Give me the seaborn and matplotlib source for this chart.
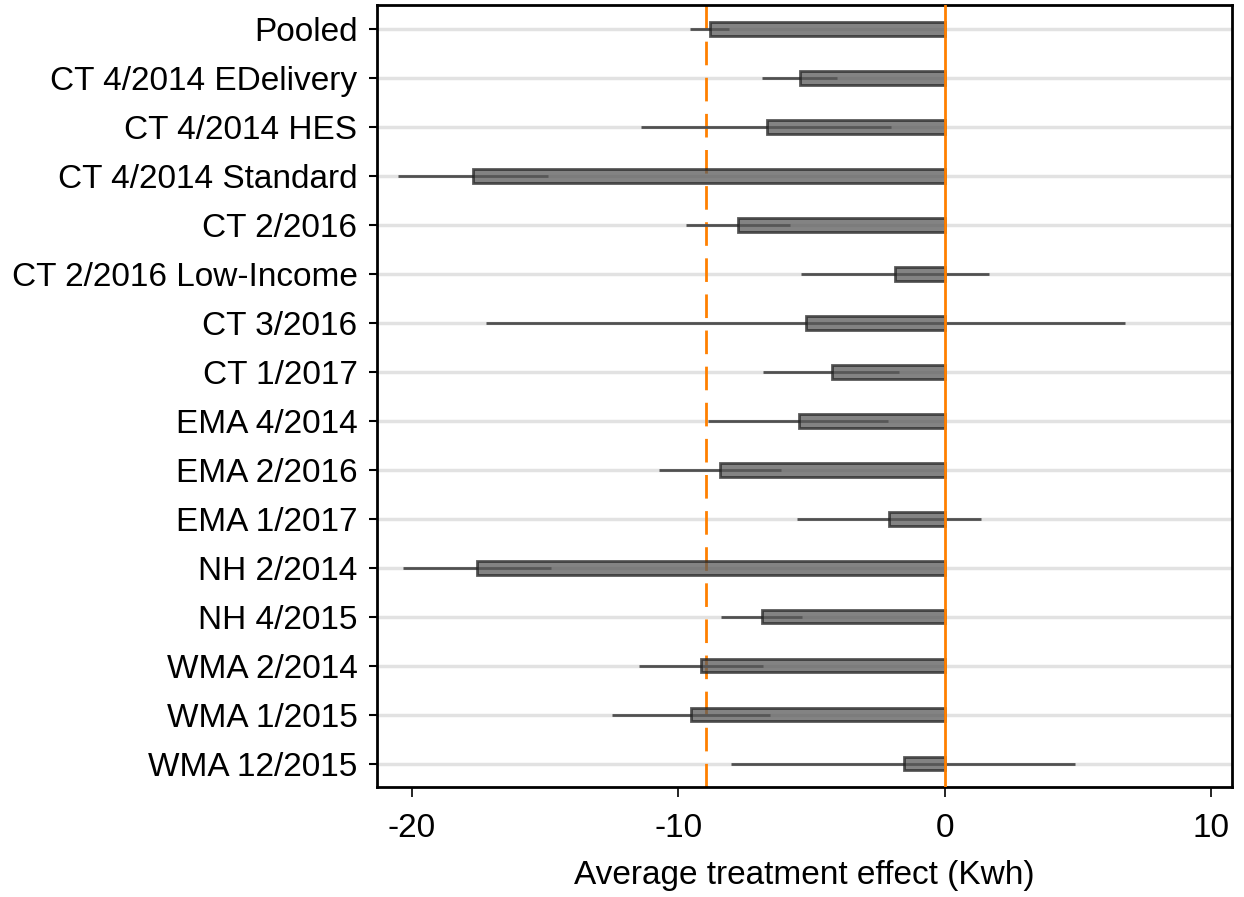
import numpy as np
import pandas as pd
import matplotlib
matplotlib.use('Agg')
import matplotlib.pyplot as plt
import seaborn as sns

# Programs and estimated treatment effects (Kwh), with 95% CI bounds
programs = ['Pooled', 'CT 4/2014 EDelivery', 'CT 4/2014 HES', 'CT 4/2014 Standard',
            'CT 2/2016', 'CT 2/2016 Low-Income', 'CT 3/2016', 'CT 1/2017',
            'EMA 4/2014', 'EMA 2/2016', 'EMA 1/2017', 'NH 2/2014', 'NH 4/2015',
            'WMA 2/2014', 'WMA 1/2015', 'WMA 12/2015']
effect = [-8.80, -5.42, -6.68, -17.69, -7.75, -1.85, -5.20, -4.24,
          -5.48, -8.41, -2.07, -17.53, -6.84, -9.13, -9.50, -1.54]
ci_low = [-9.56, -6.84, -11.40, -20.50, -9.71, -5.38, -17.20, -6.81,
          -8.86, -10.73, -5.55, -20.31, -8.39, -11.48, -12.49, -8.03]
ci_high = [-8.10, -4.03, -2.02, -14.87, -5.81, 1.66, 6.79, -1.71,
           -2.14, -6.13, 1.38, -14.75, -5.34, -6.80, -6.54, 4.90]
ref_line = -8.97  # dashed reference

df = pd.DataFrame({'program': programs, 'effect': effect,
                   'lo': ci_low, 'hi': ci_high})

sns.set_theme(style='white')
plt.rcParams['font.family'] = ['Liberation Sans', 'DejaVu Sans']
plt.rcParams['axes.unicode_minus'] = False
plt.rcParams['text.color'] = 'black'
plt.rcParams['xtick.color'] = 'black'
plt.rcParams['ytick.color'] = 'black'
plt.rcParams['axes.labelcolor'] = 'black'

fig, ax = plt.subplots(figsize=(12.44, 8.97), dpi=100)
fig.subplots_adjust(left=0.303, right=0.990, top=0.9944, bottom=0.1226)

ypos = np.arange(len(programs))

# light row gridlines
for y in ypos:
    ax.axhline(y, color='#e2e2e2', lw=2.5, zorder=0)

ax.axvline(ref_line, color='#ff8000', lw=2.0, ls=(0, (8.5, 4.5)), zorder=1)

# confidence intervals
ax.hlines(ypos, df['lo'], df['hi'], color='#505050', lw=2.0, zorder=2)

sns.barplot(data=df, x='effect', y='program', orient='h', ax=ax,
            color='#5a5a5a', saturation=1, alpha=0.75, width=0.28,
            edgecolor='#222222', linewidth=2.0, errorbar=None, zorder=3)

ax.axvline(0, color='#ff8000', lw=2.0, zorder=4)

ax.set_xlim(-21.3, 10.77)
ax.set_ylim(15.48, -0.49)
ax.set_xticks([-20, -10, 0, 10])
ax.set_ylabel('')
ax.set_xlabel('Average treatment effect (Kwh)', fontsize=24, labelpad=11)

for s in ax.spines.values():
    s.set_visible(True)
    s.set_color('black')
    s.set_linewidth(2.0)

ax.tick_params(axis='y', left=True, length=6, width=1.5, pad=8, labelsize=24)
ax.tick_params(axis='x', bottom=True, length=7, width=1.2, pad=12, labelsize=24)

plt.savefig('out.png', dpi=100)
